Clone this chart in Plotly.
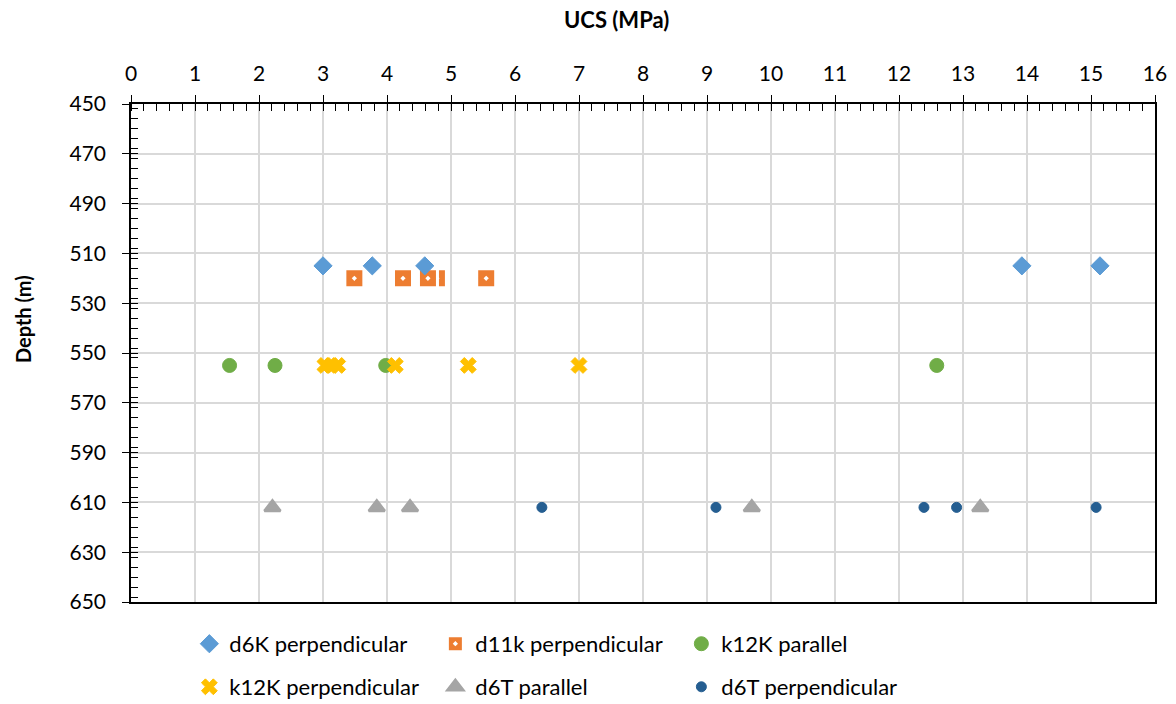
import plotly.graph_objects as go

# UCS measurements (MPa) and sample depths (m) per core / orientation
d6k_perp_ucs = [3.00, 3.77, 4.59, 13.92, 15.14]
d6k_perp_depth = [515, 515, 515, 515, 515]

d11k_perp_ucs = [3.49, 4.25, 4.78, 4.64, 5.55]
d11k_perp_depth = [520, 520, 520, 520, 520]

k12k_par_ucs = [1.54, 2.25, 3.98, 12.59]
k12k_par_depth = [555, 555, 555, 555]

k12k_perp_ucs = [3.03, 3.13, 3.23, 4.13, 5.27, 7.00]
k12k_perp_depth = [555, 555, 555, 555, 555, 555]

d6t_par_ucs = [2.21, 3.84, 4.36, 9.70, 13.27]
d6t_par_depth = [612, 612, 612, 612, 612]

d6t_perp_ucs = [6.42, 9.14, 12.39, 12.90, 15.08]
d6t_perp_depth = [612, 612, 612, 612, 612]

x_ticks = list(range(0, 17))
y_ticks = list(range(450, 651, 20))

FONT = "Lato"
TXT = "#000000"

fig = go.Figure()

# (name, x, y, marker, legend, legend rank); drawn in list order, listed by rank
series = [
    ("d11k perpendicular", d11k_perp_ucs, d11k_perp_depth,
     dict(symbol="square-dot", size=19, color="#ED7D31", line=dict(color="#FFFFFF", width=3)), "legend", 2),
    ("d6K perpendicular", d6k_perp_ucs, d6k_perp_depth,
     dict(symbol="diamond", size=14, color="#5B9BD5", line=dict(color="#5B9BD5", width=1)), "legend", 1),
    ("k12K parallel", k12k_par_ucs, k12k_par_depth,
     dict(symbol="circle", size=14, color="#70AD47", line=dict(color="#70AD47", width=1)), "legend", 3),
    ("k12K perpendicular", k12k_perp_ucs, k12k_perp_depth,
     dict(symbol="x", size=14, color="#FFC000", line=dict(color="#FFC000", width=1)), "legend2", 4),
    ("d6T parallel", d6t_par_ucs, d6t_par_depth,
     dict(symbol="triangle-up", size=14, color="#A5A5A5", line=dict(color="#A5A5A5", width=2.5)), "legend2", 5),
    ("d6T perpendicular", d6t_perp_ucs, d6t_perp_depth,
     dict(symbol="circle", size=10, color="#255E91", line=dict(color="#255E91", width=1)), "legend2", 6),
]

for name, xs, ys, marker, leg, rank in series:
    fig.add_trace(go.Scatter(x=xs, y=ys, mode="markers", name=name, marker=marker,
                             legend=leg, legendrank=rank, cliponaxis=False))

# companion axes that carry the inner half of the crossing major ticks
fig.add_trace(go.Scatter(x=[None], y=[None], xaxis="x2", yaxis="y2",
                         showlegend=False, hoverinfo="skip"))

axis_font = dict(family=FONT, size=21, color=TXT)
legend_font = dict(family=FONT, size=22, color=TXT)

fig.update_layout(
    width=1176, height=704,
    margin=dict(l=131, r=21, t=104, b=102, autoexpand=False),
    paper_bgcolor="white", plot_bgcolor="white",
    font=dict(family=FONT, size=21, color=TXT),
    xaxis=dict(
        range=[0, 16], side="top", tickvals=x_ticks, ticktext=[str(v) for v in x_ticks],
        showgrid=True, gridcolor="#D9D9D9", gridwidth=1.5,
        showline=True, linecolor="black", linewidth=1.5, mirror=True,
        ticks="outside", ticklen=7, tickwidth=1.3, tickcolor="black",
        minor=dict(dtick=0.2, ticks="inside", ticklen=7, tickwidth=1.3, tickcolor="black", showgrid=False),
        tickfont=axis_font, ticklabelstandoff=6, zeroline=False,
    ),
    yaxis=dict(
        range=[650, 450], tickvals=y_ticks, ticktext=[str(v) for v in y_ticks],
        showgrid=True, gridcolor="#D9D9D9", gridwidth=1.5,
        showline=True, linecolor="black", linewidth=1.5, mirror=True,
        ticks="outside", ticklen=7, tickwidth=1.3, tickcolor="black",
        minor=dict(dtick=4, ticks="inside", ticklen=7, tickwidth=1.3, tickcolor="black", showgrid=False),
        tickfont=axis_font, ticklabelstandoff=12, zeroline=False,
    ),
    xaxis2=dict(
        range=[0, 16], overlaying="x", side="top", anchor="y2",
        tickvals=x_ticks, showticklabels=False, showgrid=False, showline=False,
        ticks="inside", ticklen=7, tickwidth=1.3, tickcolor="black", zeroline=False,
    ),
    yaxis2=dict(
        range=[650, 450], overlaying="y", side="left", anchor="x2",
        tickvals=y_ticks, showticklabels=False, showgrid=False, showline=False,
        ticks="inside", ticklen=7, tickwidth=1.3, tickcolor="black", zeroline=False,
    ),
    legend=dict(orientation="h", x=0.057, xanchor="left", y=-0.042, yanchor="top",
                entrywidth=201, font=legend_font,
                bgcolor="rgba(0,0,0,0)", itemclick=False),
    legend2=dict(orientation="h", x=0.057, xanchor="left", y=-0.1285, yanchor="top",
                 entrywidth=201, font=legend_font,
                 bgcolor="rgba(0,0,0,0)", itemclick=False),
    annotations=[
        dict(text="<b>UCS (MPa)</b>", x=0.4746, y=1.169, xref="paper", yref="paper",
             xanchor="center", yanchor="middle", showarrow=False,
             font=dict(family=FONT, size=22, color=TXT)),
        dict(text="<b>Depth (m)</b>", x=-0.1055, y=0.568, xref="paper", yref="paper",
             xanchor="center", yanchor="middle", showarrow=False, textangle=-90,
             font=dict(family=FONT, size=20, color=TXT)),
    ],
)

fig.write_html("out.html")
